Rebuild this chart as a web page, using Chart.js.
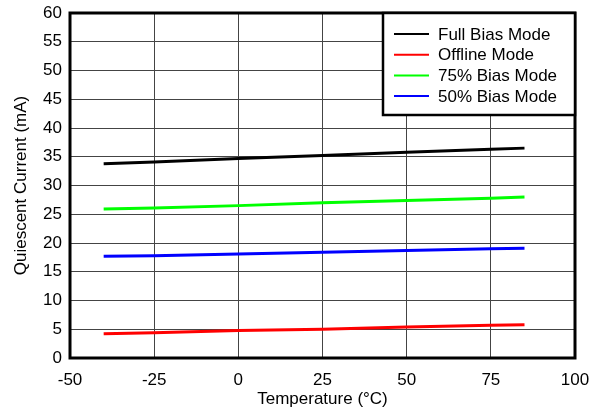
<!DOCTYPE html>
<html>
<head>
<meta charset="utf-8">
<script src="https://cdn.jsdelivr.net/npm/chart.js@4/dist/chart.umd.min.js"></script>
<style>
  html, body { margin: 0; padding: 0; background: #fff; }
  #wrap { width: 597px; height: 412px; }
</style>
</head>
<body>
<div id="wrap"><canvas id="chart" width="597" height="412"></canvas></div>
<script>
const temps = [-40, -25, 0, 25, 50, 75, 85];
const fullBias = [33.8, 34.1, 34.7, 35.2, 35.8, 36.3, 36.5];
const offline = [4.2, 4.4, 4.8, 5.0, 5.4, 5.7, 5.8];
const bias75 = [25.9, 26.1, 26.5, 27.0, 27.4, 27.8, 28.0];
const bias50 = [17.7, 17.8, 18.1, 18.4, 18.7, 19.0, 19.1];
const seriesNames = ['Full Bias Mode', 'Offline Mode', '75% Bias Mode', '50% Bias Mode'];
const seriesColors = ['#000000', '#ff0000', '#00ff00', '#0000ff'];

const FONT = "'Liberation Sans', Arial, sans-serif";

function toPoints(values) {
  return temps.map((t, i) => ({ x: t, y: values[i] }));
}

// frame around the plot + legend box inside the top-right corner
const framePlugin = {
  id: 'frame',
  afterDraw(chart) {
    const { ctx, chartArea: a } = chart;
    ctx.save();
    ctx.strokeStyle = '#000';
    ctx.lineWidth = 3;
    ctx.strokeRect(a.left, a.top, a.right - a.left, a.bottom - a.top);

    const boxW = 192, boxH = 102;
    const bx = a.right - boxW, by = a.top;
    ctx.fillStyle = '#fff';
    ctx.fillRect(bx, by, boxW, boxH);
    ctx.lineWidth = 2.5;
    ctx.strokeRect(bx, by, boxW, boxH);

    ctx.font = '17px ' + FONT;
    ctx.textBaseline = 'middle';
    chart.data.datasets.forEach((ds, i) => {
      const y = by + 21 + i * 20.7;
      ctx.strokeStyle = ds.borderColor;
      ctx.lineWidth = 2;
      ctx.beginPath();
      ctx.moveTo(bx + 11, y);
      ctx.lineTo(bx + 46, y);
      ctx.stroke();
      ctx.fillStyle = '#000';
      ctx.fillText(ds.label, bx + 55, y + 1);
    });
    ctx.restore();
  }
};

new Chart(document.getElementById('chart'), {
  type: 'scatter',
  data: {
    datasets: [fullBias, offline, bias75, bias50].map((vals, i) => ({
      label: seriesNames[i],
      data: toPoints(vals),
      showLine: true,
      borderColor: seriesColors[i],
      backgroundColor: seriesColors[i],
      borderWidth: 3,
      pointRadius: 0,
      tension: 0
    }))
  },
  options: {
    responsive: false,
    animation: false,
    layout: { padding: { left: 0, right: 22, top: 13, bottom: 0 } },
    plugins: {
      legend: { display: false },
      tooltip: { enabled: false }
    },
    scales: {
      x: {
        type: 'linear',
        min: -50,
        max: 100,
        ticks: { stepSize: 25, color: '#000', font: { family: FONT, size: 17 }, padding: 12 },
        grid: { color: '#444', lineWidth: 1, drawTicks: false },
        border: { display: false },
        title: { display: true, text: 'Temperature (°C)', color: '#000', font: { family: FONT, size: 17 }, padding: { top: 2, bottom: 2 } },
        afterFit(scale) {
          scale.height = 54;
          scale.paddingLeft = 0;
          scale.paddingRight = 0;
        }
      },
      y: {
        min: 0,
        max: 60,
        ticks: { stepSize: 5, color: '#000', font: { family: FONT, size: 17 }, padding: 8 },
        grid: { color: '#444', lineWidth: 1, drawTicks: false },
        border: { display: false },
        title: { display: true, text: 'Quiescent Current (mA)', color: '#000', font: { family: FONT, size: 17 }, padding: { top: 11, bottom: 11 } },
        afterFit(scale) {
          scale.width = 70;
          scale.paddingTop = 0;
          scale.paddingBottom = 0;
        }
      }
    }
  },
  plugins: [framePlugin]
});
</script>
</body>
</html>
